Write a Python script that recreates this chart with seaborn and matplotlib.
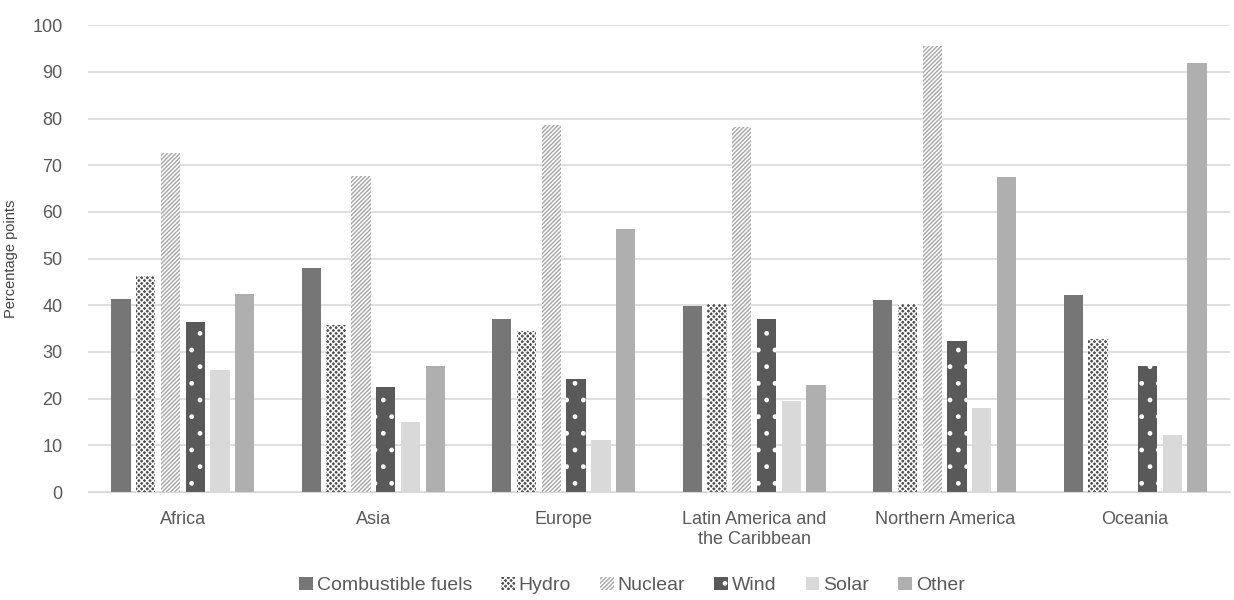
import numpy as np
import pandas as pd
import seaborn as sns
import matplotlib.pyplot as plt
from matplotlib.patches import Patch

regions = ["Africa", "Asia", "Europe", "Latin America and\nthe Caribbean",
           "Northern America", "Oceania"]
sources = ["Combustible fuels", "Hydro", "Nuclear", "Wind", "Solar", "Other"]

combustible = [41.4, 48.0, 37.0, 39.8, 41.2, 42.2]
hydro = [46.3, 35.7, 34.5, 40.2, 40.3, 32.8]
nuclear = [72.7, 67.6, 78.6, 78.2, 95.5, np.nan]
wind = [36.5, 22.6, 24.2, 37.0, 32.3, 27.0]
solar = [26.1, 14.9, 11.2, 19.4, 18.1, 12.3]
other = [42.5, 27.0, 56.4, 22.9, 67.5, 91.8]

values = [combustible, hydro, nuclear, wind, solar, other]
rows = []
for src, vals in zip(sources, values):
    for reg, v in zip(regions, vals):
        rows.append({"Region": reg, "Source": src, "Value": v})
df = pd.DataFrame(rows)

# fill colour, hatch, hatch colour per series
styles = {
    "Combustible fuels": ("#767676", "", "#767676"),
    "Hydro": ("#4f4f4f", "xxxxxx", "white"),
    "Nuclear": ("white", "////////", "#a5a5a5"),
    "Wind": ("#595959", ".", "white"),
    "Solar": ("#d9d9d9", "", "#d9d9d9"),
    "Other": ("#afafaf", "", "#afafaf"),
}

sns.set_style("white")
plt.rcParams['font.family'] = ['Liberation Sans', 'DejaVu Sans']
plt.rcParams['hatch.linewidth'] = 1.0

fig, ax = plt.subplots(figsize=(12.34, 6), dpi=100)
sns.barplot(data=df, x="Region", y="Value", hue="Source", hue_order=sources,
            order=regions, width=0.78, gap=0.22, ax=ax, legend=False)

for cont, src in zip(ax.containers, sources):
    fc, hatch, hc = styles[src]
    for bar in cont:
        bar.set_facecolor(fc)
        bar.set_hatch(hatch)
        bar.set_edgecolor(hc)
        bar.set_linewidth(0)

ax.set_ylim(0, 100)
ax.set_yticks(range(0, 101, 10))
ax.yaxis.grid(True, color="#d9d9d9", linewidth=1.2)
ax.set_axisbelow(True)
for s in ["top", "right", "left"]:
    ax.spines[s].set_visible(False)
ax.spines["bottom"].set_color("#d9d9d9")
ax.tick_params(axis="both", colors="#595959", labelsize=13, length=0)
ax.tick_params(axis="x", pad=14)
ax.tick_params(axis="y", pad=18)
ax.set_xlabel("")
ax.set_ylabel("Percentage points", color="#404040", fontsize=10.5, labelpad=10)

handles = []
for src in sources:
    fc, hatch, hc = styles[src]
    handles.append(Patch(facecolor=fc, hatch=hatch, edgecolor=hc, linewidth=0, label=src))
fig.legend(handles=handles, loc="upper center", bbox_to_anchor=(0.512, 0.068),
           ncol=6, frameon=False, fontsize=14, handlelength=0.7, handleheight=0.7,
           handletextpad=0.2, columnspacing=1.5, labelcolor="#595959")

plt.subplots_adjust(left=0.071, right=0.997, top=0.958, bottom=0.18)
plt.savefig("out.png", dpi=100)
